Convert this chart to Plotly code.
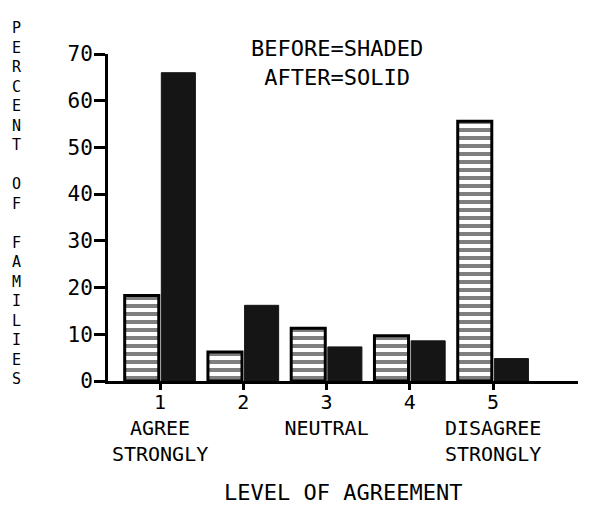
import plotly.graph_objects as go

levels = [1, 2, 3, 4, 5]
tick_labels = ["1<br>AGREE<br>STRONGLY", "2", "3<br>NEUTRAL", "4", "5<br>DISAGREE<br>STRONGLY"]
before_pct = [18.3, 6.2, 11.3, 9.7, 55.6]
after_pct = [66.0, 16.2, 7.3, 8.6, 4.8]
y_ticks = [0, 10, 20, 30, 40, 50, 60, 70]

FONT = "DejaVu Sans Mono"

fig = go.Figure()
fig.add_trace(go.Bar(
    x=levels, y=before_pct, name="BEFORE",
    marker=dict(color="white", line=dict(color="black", width=3),
                pattern=dict(shape="-", fgcolor="black", bgcolor="white",
                             size=8, solidity=0.5)),
))
fig.add_trace(go.Bar(
    x=levels, y=after_pct, name="AFTER",
    marker=dict(color="#151515", line=dict(color="#151515", width=1)),
))

xr = [0.375, 6.02]
yr = [0, 70]

# the page body adds an 8px offset, so the figure is 8px smaller and margins shifted
fig.update_layout(
    width=585, height=509,
    margin=dict(l=100, r=15, t=46, b=136, autoexpand=False),
    paper_bgcolor="white", plot_bgcolor="white",
    barmode="group", bargap=0.12, bargroupgap=0.07,
    showlegend=False,
    font=dict(family=FONT, size=21, color="black"),
    xaxis=dict(range=xr, tickvals=levels, ticktext=tick_labels,
               showgrid=False, zeroline=False, showline=True, automargin=False,
               linecolor="black", linewidth=3,
               ticks="outside", ticklen=6, tickwidth=2.5, tickcolor="black",
               ticklabelstandoff=-5,
               tickfont=dict(family=FONT, size=20)),
    yaxis=dict(range=yr, tickvals=y_ticks,
               showgrid=False, zeroline=False, showline=True, automargin=False,
               linecolor="black", linewidth=3,
               ticks="outside", ticklen=11, tickwidth=2.5, tickcolor="black",
               ticklabelstandoff=-3,
               tickfont=dict(family=FONT, size=21)),
    xaxis2=dict(range=xr, overlaying="x", anchor="y", side="bottom",
                tickvals=levels, showticklabels=False, showgrid=False,
                zeroline=False, showline=False, automargin=False,
                ticks="inside", ticklen=10, tickwidth=3, tickcolor="black"),
    yaxis2=dict(range=yr, overlaying="y", anchor="x", side="left",
                tickvals=y_ticks, showticklabels=False, showgrid=False,
                zeroline=False, showline=False, automargin=False,
                ticks="inside", ticklen=5, tickwidth=2.5, tickcolor="black"),
)

fig.add_annotation(text="BEFORE=SHADED<br>AFTER=SOLID", xref="paper", yref="paper",
                   x=0.487, y=0.972, xanchor="center", yanchor="middle",
                   showarrow=False, align="center",
                   font=dict(family=FONT, size=22, color="black"))
fig.add_annotation(text="LEVEL OF AGREEMENT", xref="paper", yref="paper",
                   x=0.5, y=-0.3425, xanchor="center", yanchor="middle",
                   showarrow=False, font=dict(family=FONT, size=22, color="black"))
ytitle = "PERCENT OF FAMILIES"
fig.add_annotation(text="<br>".join(ytitle),
                   xref="paper", yref="paper", x=-0.194, y=0.544,
                   xanchor="center", yanchor="middle", showarrow=False,
                   align="center", font=dict(family=FONT, size=15, color="black"))

fig.write_html("out.html")
